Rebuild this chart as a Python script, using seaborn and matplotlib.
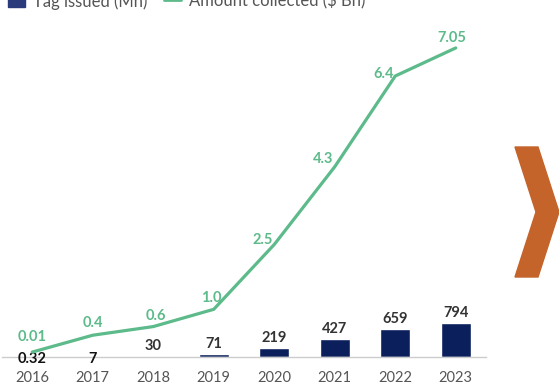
import numpy as np
import pandas as pd
import matplotlib
matplotlib.use("Agg")
import matplotlib.pyplot as plt
import seaborn as sns
from matplotlib.patches import Polygon
from matplotlib.lines import Line2D
from matplotlib.patches import Patch

years = ["2016", "2017", "2018", "2019", "2020", "2021", "2022", "2023"]
tags_issued = [0.32, 7, 30, 71, 219, 427, 659, 794]
tag_labels = ["0.32", "7", "30", "71", "219", "427", "659", "794"]
amount_collected = [0.01, 0.4, 0.6, 1.0, 2.5, 4.3, 6.4, 7.05]
amount_labels = ["0.01", "0.4", "0.6", "1.0", "2.5", "4.3", "6.4", "7.05"]

df = pd.DataFrame({"Year": years, "Tags": tags_issued, "Amount": amount_collected})

sns.set_theme(style="white")
plt.rcParams['font.family'] = ['Lato', 'DejaVu Sans']

navy = "#0b1f5c"
green = "#5dba8a"
grey = "#555555"

W, H = 559, 387
PX = 72 / 100  # pixels -> points
fig = plt.figure(figsize=(W / 100, H / 100), dpi=100)
ax = fig.add_axes([2 / W, 1 - 357 / H, 484 / W, 327 / H])

sns.barplot(data=df, x="Year", y="Tags", ax=ax, color=navy, width=0.5, saturation=1)
ax.set_xlim(-0.5, 7.5)
ax.set_ylim(0, 327 * 794 / 34)

ax2 = ax.twinx()
x_pos = np.arange(len(years))
sns.lineplot(x=x_pos, y=amount_collected, ax=ax2, color=green, linewidth=2.3)
ax2.set_ylim(-4.5 / 43.2, (352.5 - 30) / 43.2)
ax2.set_xlim(-0.5, 7.5)

# bar value labels
for i, (v, lab) in enumerate(zip(tags_issued, tag_labels)):
    if i < 2:
        ax.annotate(lab, (i, 0), xytext=(0, -2 * PX), textcoords="offset points",
                    ha="center", va="center", fontsize=10.5, fontweight="bold",
                    color="#111111")
    else:
        ax.annotate(lab, (i, v), xytext=(0, 3 * PX), textcoords="offset points",
                    ha="center", va="bottom", fontsize=10.5, fontweight="bold",
                    color="#333333")

# line value labels (offsets in pixels)
offs = [(0, 15), (0, 12), (3, 11), (-2, 11), (-12, 4), (-12, 8), (-12, 2), (-4, 10)]
for i, (v, lab) in enumerate(zip(amount_collected, amount_labels)):
    ax2.annotate(lab, (i, v), xytext=(offs[i][0] * PX, offs[i][1] * PX),
                 textcoords="offset points", ha="center", va="center",
                 fontsize=10.5, fontweight="bold", color=green)

for a in (ax, ax2):
    a.set_xlabel("")
    a.set_ylabel("")
    a.set_yticks([])
    for s in ["top", "right", "left"]:
        a.spines[s].set_visible(False)
ax2.spines["bottom"].set_visible(False)
ax.spines["bottom"].set_color("#cccccc")
ax.spines["bottom"].set_linewidth(1)
ax.tick_params(axis="x", length=0, pad=10, labelsize=10.5, labelcolor=grey)

handles = [Patch(color="#2a3a7a"), Line2D([0], [0], color=green, lw=2)]
fig.legend(handles, ["Tag issued (Mn)", "Amount collected ($ Bn)"], loc="center left",
           bbox_to_anchor=(-0.012, 1 - 1 / H), ncol=2, frameon=False, fontsize=12,
           labelcolor=grey, handlelength=1.0, handleheight=0.8, columnspacing=1.0,
           handletextpad=0.5)

chev = [(515, 147), (538, 147), (559, 212), (538, 277), (515, 277), (536, 212)]
fig.patches.append(Polygon([(x / W, 1 - y / H) for x, y in chev], closed=True,
                           transform=fig.transFigure, color="#c4632a", zorder=5))

fig.savefig("out.png", dpi=100)
